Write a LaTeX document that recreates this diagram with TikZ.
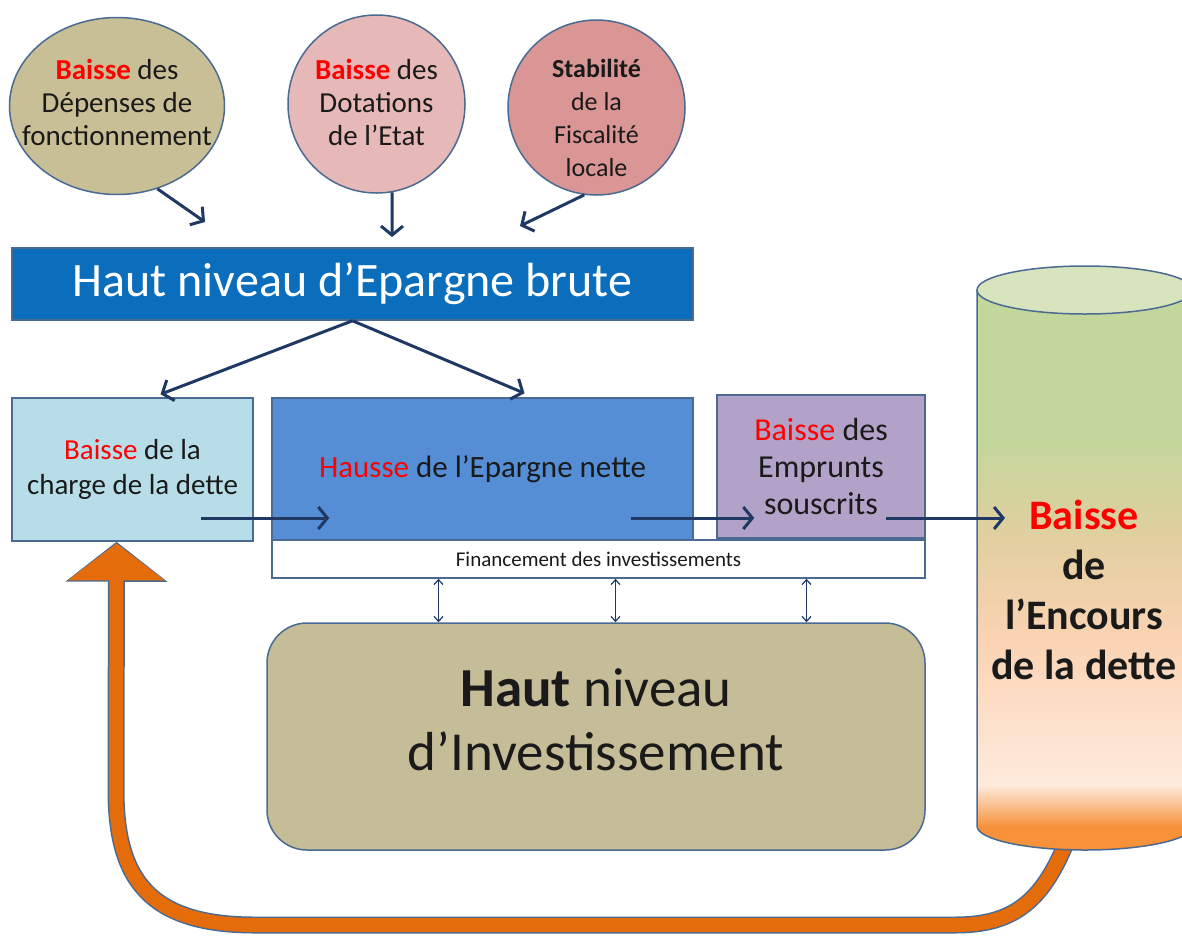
\documentclass[tikz,border=0pt]{standalone}
\usepackage{fontspec}
\setmainfont{Carlito}
\usetikzlibrary{arrows.meta,shapes.geometric}
\definecolor{schemeink}{HTML}{1A1A1A}
\definecolor{schemeedge}{HTML}{4A6A92}
\definecolor{schemenavy}{HTML}{1F3864}
\definecolor{schemered}{HTML}{FF0000}
\definecolor{schemeorange}{HTML}{E46C0A}
\definecolor{fillkhaki}{HTML}{C9BF96}
\definecolor{fillrose}{HTML}{E6B9B8}
\definecolor{fillcoral}{HTML}{D99694}
\definecolor{fillbar}{HTML}{0A6EBD}
\definecolor{fillsky}{HTML}{B7DEE8}
\definecolor{fillblue}{HTML}{558ED5}
\definecolor{fillmauve}{HTML}{B3A2C7}
\definecolor{fillsand}{HTML}{C4BD97}
\definecolor{cyltop}{HTML}{D8E4BE}
\definecolor{cylgreen}{HTML}{C3D69B}
\definecolor{cyltan}{HTML}{E2CFA0}
\definecolor{cylpeach}{HTML}{FBD3B4}
\definecolor{cyllight}{HTML}{FDEBDD}
\definecolor{cylorange}{HTML}{F7913A}
\newcommand{\rouge}[1]{\textcolor{schemered}{#1}}

\begin{document}
\begin{tikzpicture}[
  x=1pt,
  y=-1pt,
  every node/.style={schemeink},
  bubble/.style={ellipse, draw=schemeedge, line width=1.5pt, inner sep=0pt},
  bubbletext/.style={align=center, font=\fontsize{29}{33}\selectfont},
  bubblesmall/.style={align=center, font=\fontsize{26}{33}\selectfont},
  panel/.style={draw=schemeedge, line width=1.5pt, inner sep=0pt, align=center},
  flow/.style={schemenavy, line width=3pt, -{Straight Barb[length=9pt,width=22pt]}},
  link/.style={schemenavy, line width=1.2pt,
    {Straight Barb[length=5pt,width=9pt]}-{Straight Barb[length=5pt,width=9pt]}}
]
  \useasboundingbox (0,0) rectangle (1182,938);

  % ---- the three sources, top row --------------------------------------
  \node[bubble, fill=fillkhaki, minimum width=215pt, minimum height=177pt,
    label={[bubbletext, yshift=4pt]center:{\rouge{\textbf{Baisse}} des\\Dépenses de\\fonctionnement}}]
    (depenses) at (117,106) {};
  \node[bubble, fill=fillrose, minimum width=177pt, minimum height=178pt,
    label={[bubbletext, yshift=2pt]center:{\rouge{\textbf{Baisse}} des\\Dotations\\de l’Etat}}]
    (dotations) at (376.5,104) {};
  \node[bubble, fill=fillcoral, minimum width=177pt, minimum height=175pt,
    label={[bubblesmall, yshift=-10pt]center:{\textbf{Stabilité}\\de la\\Fiscalité\\locale}}]
    (fiscalite) at (596.5,107.5) {};

  % ---- gross savings bar -----------------------------------------------
  \node[panel, fill=fillbar, text=white, minimum width=681pt, minimum height=72pt,
    font=\fontsize{48}{52}\selectfont] (brute) at (352.5,284) {Haut niveau d’Epargne brute};

  \coordinate (inleft) at (205,222);
  \coordinate (inmid) at (392,237);
  \coordinate (inright) at (520,226);
  \draw[flow] (depenses.-64) -- (inleft);
  \draw[flow] (dotations.-80) -- (inmid);
  \draw[flow] (fiscalite.-98) -- (inright);

  % ---- middle row of boxes ---------------------------------------------
  \node[panel, fill=fillsky, minimum width=241pt, minimum height=143pt,
    font=\fontsize{29}{35}\selectfont] (charge) at (132.5,469.5)
    {\rouge{Baisse} de la\\charge de la dette};
  \node[panel, fill=fillblue, minimum width=421pt, minimum height=142pt,
    font=\fontsize{31}{34}\selectfont] (nette) at (482.5,469)
    {\rouge{Hausse} de l’Epargne nette};
  \node[panel, fill=fillmauve, minimum width=208pt, minimum height=143pt,
    font=\fontsize{32}{37}\selectfont] (emprunts) at (821,466.5)
    {\rouge{Baisse} des\\Emprunts\\souscrits};
  \node[panel, fill=white, minimum width=653pt, minimum height=38pt,
    font=\fontsize{21}{24}\selectfont] (financement) at (598.5,559)
    {Financement des investissements};

  \draw[flow] (brute.south) -- ([xshift=28pt,yshift=3pt]charge.north);
  \draw[flow] (brute.south) -- ([xshift=42pt,yshift=4pt]nette.north);

  % ---- investment level ------------------------------------------------
  \node[panel, fill=fillsand, rounded corners=40pt, minimum width=658pt,
    minimum height=227pt] (invest) at (596,736.5) {};
  \node[align=center, font=\fontsize{55}{64}\selectfont] (investtext) at (596,720)
    {\textbf{Haut} niveau\\d’Investissement};

  \foreach \dx in {-160,17,208}
    \draw[link] ([xshift=\dx pt]financement.south) -- ([xshift=\dx pt]financement.south |- invest.north);

  % ---- loop back from the debt stock -----------------------------------
  \coordinate (cylfoot) at (1068,838);
  \draw[schemeedge, line width=17pt, -{Triangle[length=40pt,width=100pt]}]
    (cylfoot) .. controls (1042,905) and (1010,925) .. (955,925)
    -- (255,925) .. controls (150,925) and (116,880) .. (116,790)
    -- ([xshift=-16pt]charge.south);
  \draw[schemeorange, line width=14pt, shorten >=1.6pt, -{Triangle[length=37pt,width=95pt]}]
    (cylfoot) .. controls (1042,905) and (1010,925) .. (955,925)
    -- (255,925) .. controls (150,925) and (116,880) .. (116,790)
    -- ([xshift=-16pt]charge.south);

  % ---- the debt cylinder -----------------------------------------------
  \fill[cylgreen] (977,290) rectangle (1193,441);
  \shade[top color=cylgreen, bottom color=cylpeach, middle color=cyltan]
    (977,440) rectangle (1193,641);
  \shade[top color=cylpeach, bottom color=cyllight] (977,640) rectangle (1193,786);
  \shade[top color=cyllight, bottom color=cylorange] (977,785) rectangle (1193,827);
  \fill[cylorange] (977,826) arc[start angle=180, end angle=0, x radius=108, y radius=24] -- cycle;
  \draw[schemeedge, line width=1.5pt] (977,290) -- (977,826)
    arc[start angle=180, end angle=0, x radius=108, y radius=24] -- (1193,290);
  \filldraw[fill=cyltop, draw=schemeedge, line width=1.5pt]
    (1085,290) ellipse [x radius=108, y radius=24];
  \node[align=center, font=\fontsize{42}{50}\selectfont\bfseries] (encours) at (1084,590)
    {\rouge{Baisse}\\de\\l’Encours\\de la dette};

  % ---- flow along the middle row ---------------------------------------
  \coordinate (encoursin) at (1005,518);
  \draw[flow] ([xshift=-53pt,yshift=-48.5pt]charge.east) -- ([xshift=58pt,yshift=-49pt]nette.west);
  \draw[flow] ([xshift=-63pt,yshift=-49pt]nette.east) -- ([xshift=38pt,yshift=-51.5pt]emprunts.west);
  \draw[flow] ([xshift=-40pt,yshift=-51.5pt]emprunts.east) -- (encoursin);
\end{tikzpicture}
\end{document}
